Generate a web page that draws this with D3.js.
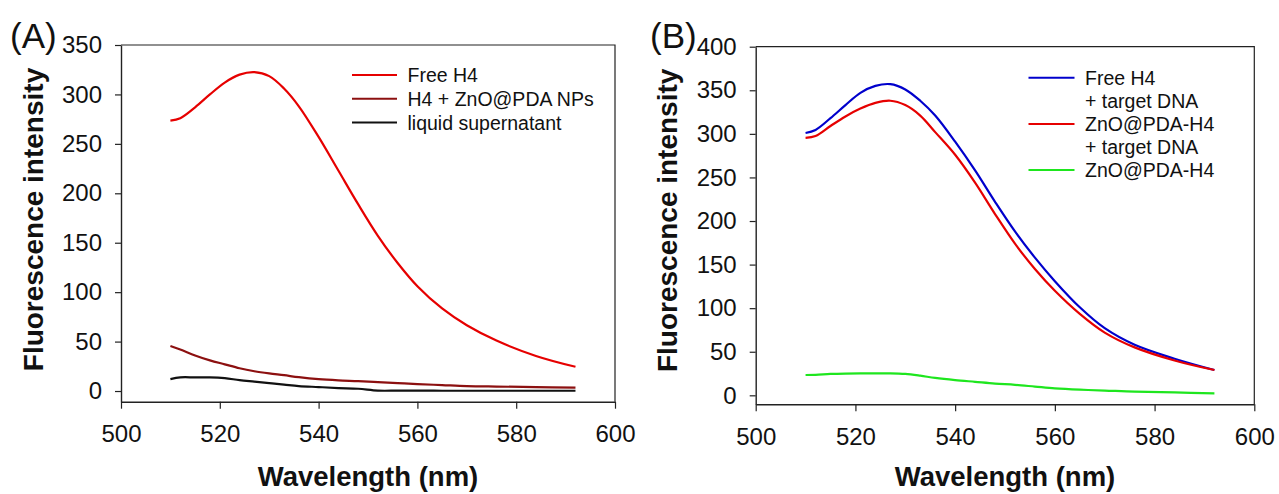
<!DOCTYPE html>
<html>
<head>
<meta charset="utf-8">
<script src="https://cdn.jsdelivr.net/npm/d3@7"></script>
<style>
    body { margin: 0; background: #fff; }
    svg { display: block; font-family: "Liberation Sans", Arial, sans-serif; }
</style>
</head>
<body>
<svg id="chart" width="1279" height="494"></svg>
<script>
// wavelengths (nm) where the curves were read
const wavelengths = [510, 512, 515, 518, 521, 524, 527, 530, 533, 536, 540, 544, 548, 552, 556, 560, 565, 570, 576, 584, 592];

// Panel A
const freeH4 = [273.5, 276, 287, 300, 312, 320, 322.5, 318.5, 306, 288, 257, 223, 189, 157, 129.5, 106, 83.5, 66.5, 51, 35.5, 24.5];
const h4ZnoNps = [45.5, 42, 36, 31, 27, 23, 20, 17.8, 16, 14, 12, 10.8, 10, 9, 8, 7, 6, 5, 4.5, 4, 3.4];
const supernatant = [12, 13.8, 13.8, 13.8, 13, 11, 9.5, 8, 6.5, 5, 4, 3, 2.3, 0.4, 0.4, 0.4, 0.3, 0.3, 0.3, 0.3, 0.3];

// Panel B
const freeH4Target = [301, 304.5, 318, 333, 347, 355, 357, 351, 338, 321, 291, 258, 222, 188, 158, 131, 101, 77, 58, 42, 29];
const znoH4Target = [295.5, 297.5, 309, 320, 329, 335.5, 338, 333, 321, 302, 276, 244, 208, 174, 145, 120, 93.5, 72, 55, 40, 29];
const znoH4 = [23.3, 23.5, 24.5, 25, 25.2, 25.2, 25.2, 24.5, 22.5, 20, 17.5, 15.5, 13.5, 12, 10, 8, 6.5, 5.5, 4.2, 3.3, 2.3];

const xTicks = [500, 520, 540, 560, 580, 600];
const yTicksA = [0, 50, 100, 150, 200, 250, 300, 350];
const yTicksB = [0, 50, 100, 150, 200, 250, 300, 350, 400];

const svg = d3.select("#chart");

const panels = [
    {
        label: "(A)", labelX: 10,
        left: 121, right: 615, top: 45, bottom: 401.7,
        yDomain: [-10.8, 350], yTicks: yTicksA, titleX: 43,
        series: [
            {name: ["Free H4"], values: freeH4, color: "#e60000"},
            {name: ["H4 + ZnO@PDA NPs"], values: h4ZnoNps, color: "#8c1010"},
            {name: ["liquid supernatant"], values: supernatant, color: "#111"}
        ],
        legend: {x: 352, y: 75, lineLen: 45, rowStep: 23.8}
    },
    {
        label: "(B)", labelX: 650,
        left: 755.7, right: 1254.3, top: 46.7, bottom: 404.3,
        yDomain: [-10.3, 400], yTicks: yTicksB, titleX: 677,
        series: [
            {name: ["Free H4", "+ target DNA"], values: freeH4Target, color: "#0000cc"},
            {name: ["ZnO@PDA-H4", "+ target DNA"], values: znoH4Target, color: "#e60000"},
            {name: ["ZnO@PDA-H4"], values: znoH4, color: "#1ee61e"}
        ],
        legend: {x: 1028.5, y: 77.7, lineLen: 46, rowStep: 23.1}
    }
];

panels.forEach(p => {
    const g = svg.append("g");

    const x = d3.scaleLinear().domain([500, 600]).range([p.left, p.right]);
    const y = d3.scaleLinear().domain(p.yDomain).range([p.bottom, p.top]);

    // frame: top and right borders
    g.append("path")
        .attr("d", `M${p.left},${p.top}H${p.right}V${p.bottom}`)
        .attr("fill", "none")
        .attr("stroke", "#222")
        .attr("stroke-width", 1.2);

    // axes
    const xAxis = g.append("g")
        .attr("transform", `translate(0,${p.bottom})`)
        .call(d3.axisBottom(x).tickValues(xTicks).tickSize(7).tickSizeOuter(0).tickPadding(16.5));
    const yAxis = g.append("g")
        .attr("transform", `translate(${p.left},0)`)
        .call(d3.axisLeft(y).tickValues(p.yTicks).tickSize(6).tickSizeOuter(0).tickPadding(13));

    [xAxis, yAxis].forEach(a => {
        a.attr("font-family", null).attr("font-size", null);
        a.select(".domain").attr("stroke", "#222").attr("stroke-width", 1.4);
        a.selectAll(".tick line").attr("stroke", "#222").attr("stroke-width", 1.2);
        a.selectAll(".tick text").attr("fill", "#111").style("font-size", "24px");
    });

    // curves
    const line = d3.line()
        .x((d, i) => x(wavelengths[i]))
        .y(d => y(d))
        .curve(d3.curveCatmullRom.alpha(0.5));

    p.series.forEach(s => {
        g.append("path")
            .datum(s.values)
            .attr("d", line)
            .attr("fill", "none")
            .attr("stroke", s.color)
            .attr("stroke-width", 2.2)
            .attr("stroke-linejoin", "round");
    });

    // legend
    let row = 0;
    p.series.forEach(s => {
        const ly = p.legend.y + row * p.legend.rowStep;
        g.append("line")
            .attr("x1", p.legend.x).attr("x2", p.legend.x + p.legend.lineLen)
            .attr("y1", ly).attr("y2", ly)
            .attr("stroke", s.color)
            .attr("stroke-width", 2);
        s.name.forEach(t => {
            g.append("text")
                .attr("x", p.legend.x + p.legend.lineLen + 10.5)
                .attr("y", p.legend.y + row * p.legend.rowStep)
                .attr("dy", "0.36em")
                .style("font-size", "19.5px")
                .attr("fill", "#111")
                .text(t);
            row++;
        });
    });

    // titles
    g.append("text")
        .attr("x", (p.left + p.right) / 2)
        .attr("y", 485.5)
        .attr("text-anchor", "middle")
        .style("font-size", "27.5px")
        .style("font-weight", "bold")
        .attr("fill", "#111")
        .text("Wavelength (nm)");

    g.append("text")
        .attr("transform", `translate(${p.titleX},${(p.top + 372) / 2 + 11}) rotate(-90)`)
        .attr("text-anchor", "middle")
        .style("font-size", "28px")
        .style("font-weight", "bold")
        .attr("fill", "#111")
        .text("Fluorescence intensity");

    g.append("text")
        .attr("x", p.labelX)
        .attr("y", 48)
        .style("font-size", "35px")
        .attr("fill", "#111")
        .text(p.label);
});
</script>
</body>
</html>
